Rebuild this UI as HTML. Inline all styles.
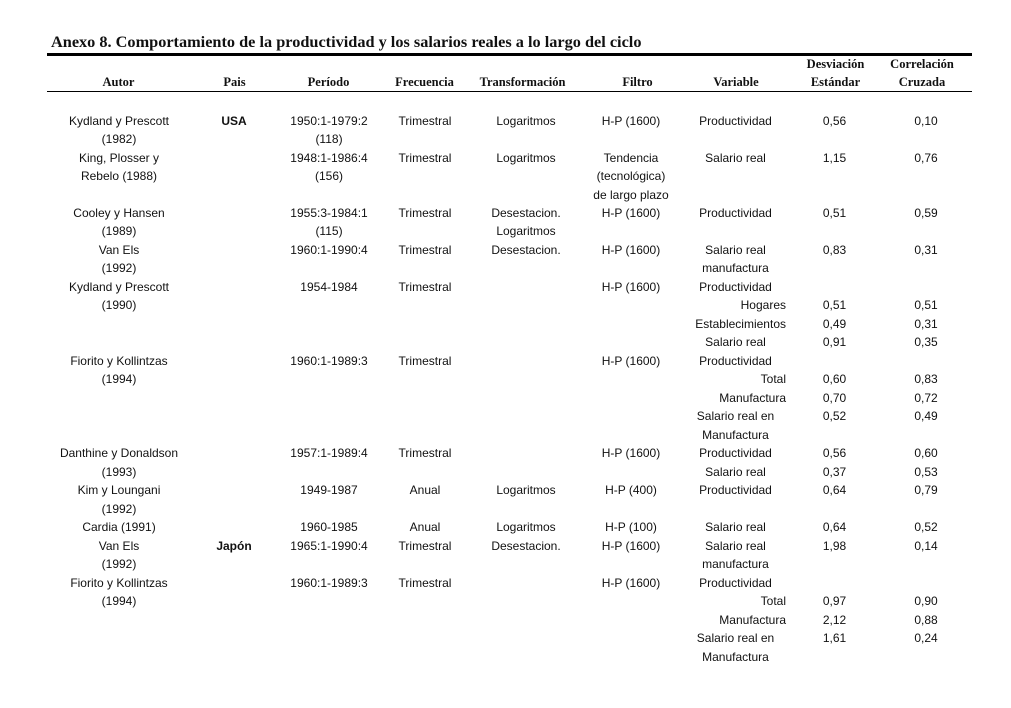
<!DOCTYPE html>
<html><head><meta charset="utf-8">
<style>
html,body{margin:0;padding:0;background:#fff;}
body{width:1011px;height:708px;position:relative;overflow:hidden;color:#111;}
.title{position:absolute;left:51px;top:33.4px;font:bold 16.3px/18px "Liberation Serif",serif;white-space:nowrap;}
.thick{position:absolute;left:47px;width:925px;top:52.5px;height:3.7px;background:#000;}
.thin{position:absolute;left:47px;width:925px;top:91px;height:1px;background:#000;}
.h{position:absolute;width:200px;text-align:center;font:bold 12.5px/14px "Liberation Serif",serif;white-space:nowrap;}
.body{position:absolute;left:0;top:111.6px;width:1011px;height:560px;font:12px/18.48px "Liberation Sans",sans-serif;}
.r{position:absolute;left:0;width:1011px;height:18.48px;}
.r span{position:absolute;top:0;width:200px;text-align:center;white-space:nowrap;}
.a{left:19px}.p{left:134px;font-weight:bold}.pe{left:229px}.f{left:325px}.t{left:426px}.fi{left:531px}.v{left:635.5px}
.r span.vr{left:586px;text-align:right}.d{left:734.5px}.c{left:826px}
</style></head><body>
<div class="title">Anexo 8. Comportamiento de la productividad y los salarios reales a lo largo del ciclo</div>
<div class="thick"></div>
<div class="h" style="left:18.5px;top:75.4px">Autor</div>
<div class="h" style="left:134.5px;top:75.4px">Pais</div>
<div class="h" style="left:228.5px;top:75.4px">Período</div>
<div class="h" style="left:324.5px;top:75.4px">Frecuencia</div>
<div class="h" style="left:422.5px;top:75.4px">Transformación</div>
<div class="h" style="left:537.5px;top:75.4px">Filtro</div>
<div class="h" style="left:636px;top:75.4px">Variable</div>
<div class="h" style="left:735.5px;top:57.1px">Desviación</div>
<div class="h" style="left:735.5px;top:75.4px">Estándar</div>
<div class="h" style="left:822px;top:57.1px">Correlación</div>
<div class="h" style="left:822px;top:75.4px">Cruzada</div>
<div class="thin"></div>
<div class="body">
<div class="r" style="top:0px"><span class="a">Kydland y Prescott</span><span class="p">USA</span><span class="pe">1950:1-1979:2</span><span class="f">Trimestral</span><span class="t">Logaritmos</span><span class="fi">H-P (1600)</span><span class="v">Productividad</span><span class="d">0,56</span><span class="c">0,10</span></div>
<div class="r" style="top:18.48px"><span class="a">(1982)</span><span class="pe">(118)</span></div>
<div class="r" style="top:36.96px"><span class="a">King, Plosser y</span><span class="pe">1948:1-1986:4</span><span class="f">Trimestral</span><span class="t">Logaritmos</span><span class="fi">Tendencia</span><span class="v">Salario real</span><span class="d">1,15</span><span class="c">0,76</span></div>
<div class="r" style="top:55.44px"><span class="a">Rebelo (1988)</span><span class="pe">(156)</span><span class="fi">(tecnológica)</span></div>
<div class="r" style="top:73.92px"><span class="fi">de largo plazo</span></div>
<div class="r" style="top:92.4px"><span class="a">Cooley y Hansen</span><span class="pe">1955:3-1984:1</span><span class="f">Trimestral</span><span class="t">Desestacion.</span><span class="fi">H-P (1600)</span><span class="v">Productividad</span><span class="d">0,51</span><span class="c">0,59</span></div>
<div class="r" style="top:110.88px"><span class="a">(1989)</span><span class="pe">(115)</span><span class="t">Logaritmos</span></div>
<div class="r" style="top:129.36px"><span class="a">Van Els</span><span class="pe">1960:1-1990:4</span><span class="f">Trimestral</span><span class="t">Desestacion.</span><span class="fi">H-P (1600)</span><span class="v">Salario real</span><span class="d">0,83</span><span class="c">0,31</span></div>
<div class="r" style="top:147.84px"><span class="a">(1992)</span><span class="v">manufactura</span></div>
<div class="r" style="top:166.32px"><span class="a">Kydland y Prescott</span><span class="pe">1954-1984</span><span class="f">Trimestral</span><span class="fi">H-P (1600)</span><span class="v">Productividad</span></div>
<div class="r" style="top:184.8px"><span class="a">(1990)</span><span class="vr">Hogares</span><span class="d">0,51</span><span class="c">0,51</span></div>
<div class="r" style="top:203.28px"><span class="vr">Establecimientos</span><span class="d">0,49</span><span class="c">0,31</span></div>
<div class="r" style="top:221.76px"><span class="v">Salario real</span><span class="d">0,91</span><span class="c">0,35</span></div>
<div class="r" style="top:240.24px"><span class="a">Fiorito y Kollintzas</span><span class="pe">1960:1-1989:3</span><span class="f">Trimestral</span><span class="fi">H-P (1600)</span><span class="v">Productividad</span></div>
<div class="r" style="top:258.72px"><span class="a">(1994)</span><span class="vr">Total</span><span class="d">0,60</span><span class="c">0,83</span></div>
<div class="r" style="top:277.2px"><span class="vr">Manufactura</span><span class="d">0,70</span><span class="c">0,72</span></div>
<div class="r" style="top:295.68px"><span class="v">Salario real en</span><span class="d">0,52</span><span class="c">0,49</span></div>
<div class="r" style="top:314.16px"><span class="v">Manufactura</span></div>
<div class="r" style="top:332.64px"><span class="a">Danthine y Donaldson</span><span class="pe">1957:1-1989:4</span><span class="f">Trimestral</span><span class="fi">H-P (1600)</span><span class="v">Productividad</span><span class="d">0,56</span><span class="c">0,60</span></div>
<div class="r" style="top:351.12px"><span class="a">(1993)</span><span class="v">Salario real</span><span class="d">0,37</span><span class="c">0,53</span></div>
<div class="r" style="top:369.6px"><span class="a">Kim y Loungani</span><span class="pe">1949-1987</span><span class="f">Anual</span><span class="t">Logaritmos</span><span class="fi">H-P (400)</span><span class="v">Productividad</span><span class="d">0,64</span><span class="c">0,79</span></div>
<div class="r" style="top:388.08px"><span class="a">(1992)</span></div>
<div class="r" style="top:406.56px"><span class="a">Cardia (1991)</span><span class="pe">1960-1985</span><span class="f">Anual</span><span class="t">Logaritmos</span><span class="fi">H-P (100)</span><span class="v">Salario real</span><span class="d">0,64</span><span class="c">0,52</span></div>
<div class="r" style="top:425.04px"><span class="a">Van Els</span><span class="p">Japón</span><span class="pe">1965:1-1990:4</span><span class="f">Trimestral</span><span class="t">Desestacion.</span><span class="fi">H-P (1600)</span><span class="v">Salario real</span><span class="d">1,98</span><span class="c">0,14</span></div>
<div class="r" style="top:443.52px"><span class="a">(1992)</span><span class="v">manufactura</span></div>
<div class="r" style="top:462px"><span class="a">Fiorito y Kollintzas</span><span class="pe">1960:1-1989:3</span><span class="f">Trimestral</span><span class="fi">H-P (1600)</span><span class="v">Productividad</span></div>
<div class="r" style="top:480.48px"><span class="a">(1994)</span><span class="vr">Total</span><span class="d">0,97</span><span class="c">0,90</span></div>
<div class="r" style="top:498.96px"><span class="vr">Manufactura</span><span class="d">2,12</span><span class="c">0,88</span></div>
<div class="r" style="top:517.44px"><span class="v">Salario real en</span><span class="d">1,61</span><span class="c">0,24</span></div>
<div class="r" style="top:535.92px"><span class="v">Manufactura</span></div>
</div>
</body></html>
